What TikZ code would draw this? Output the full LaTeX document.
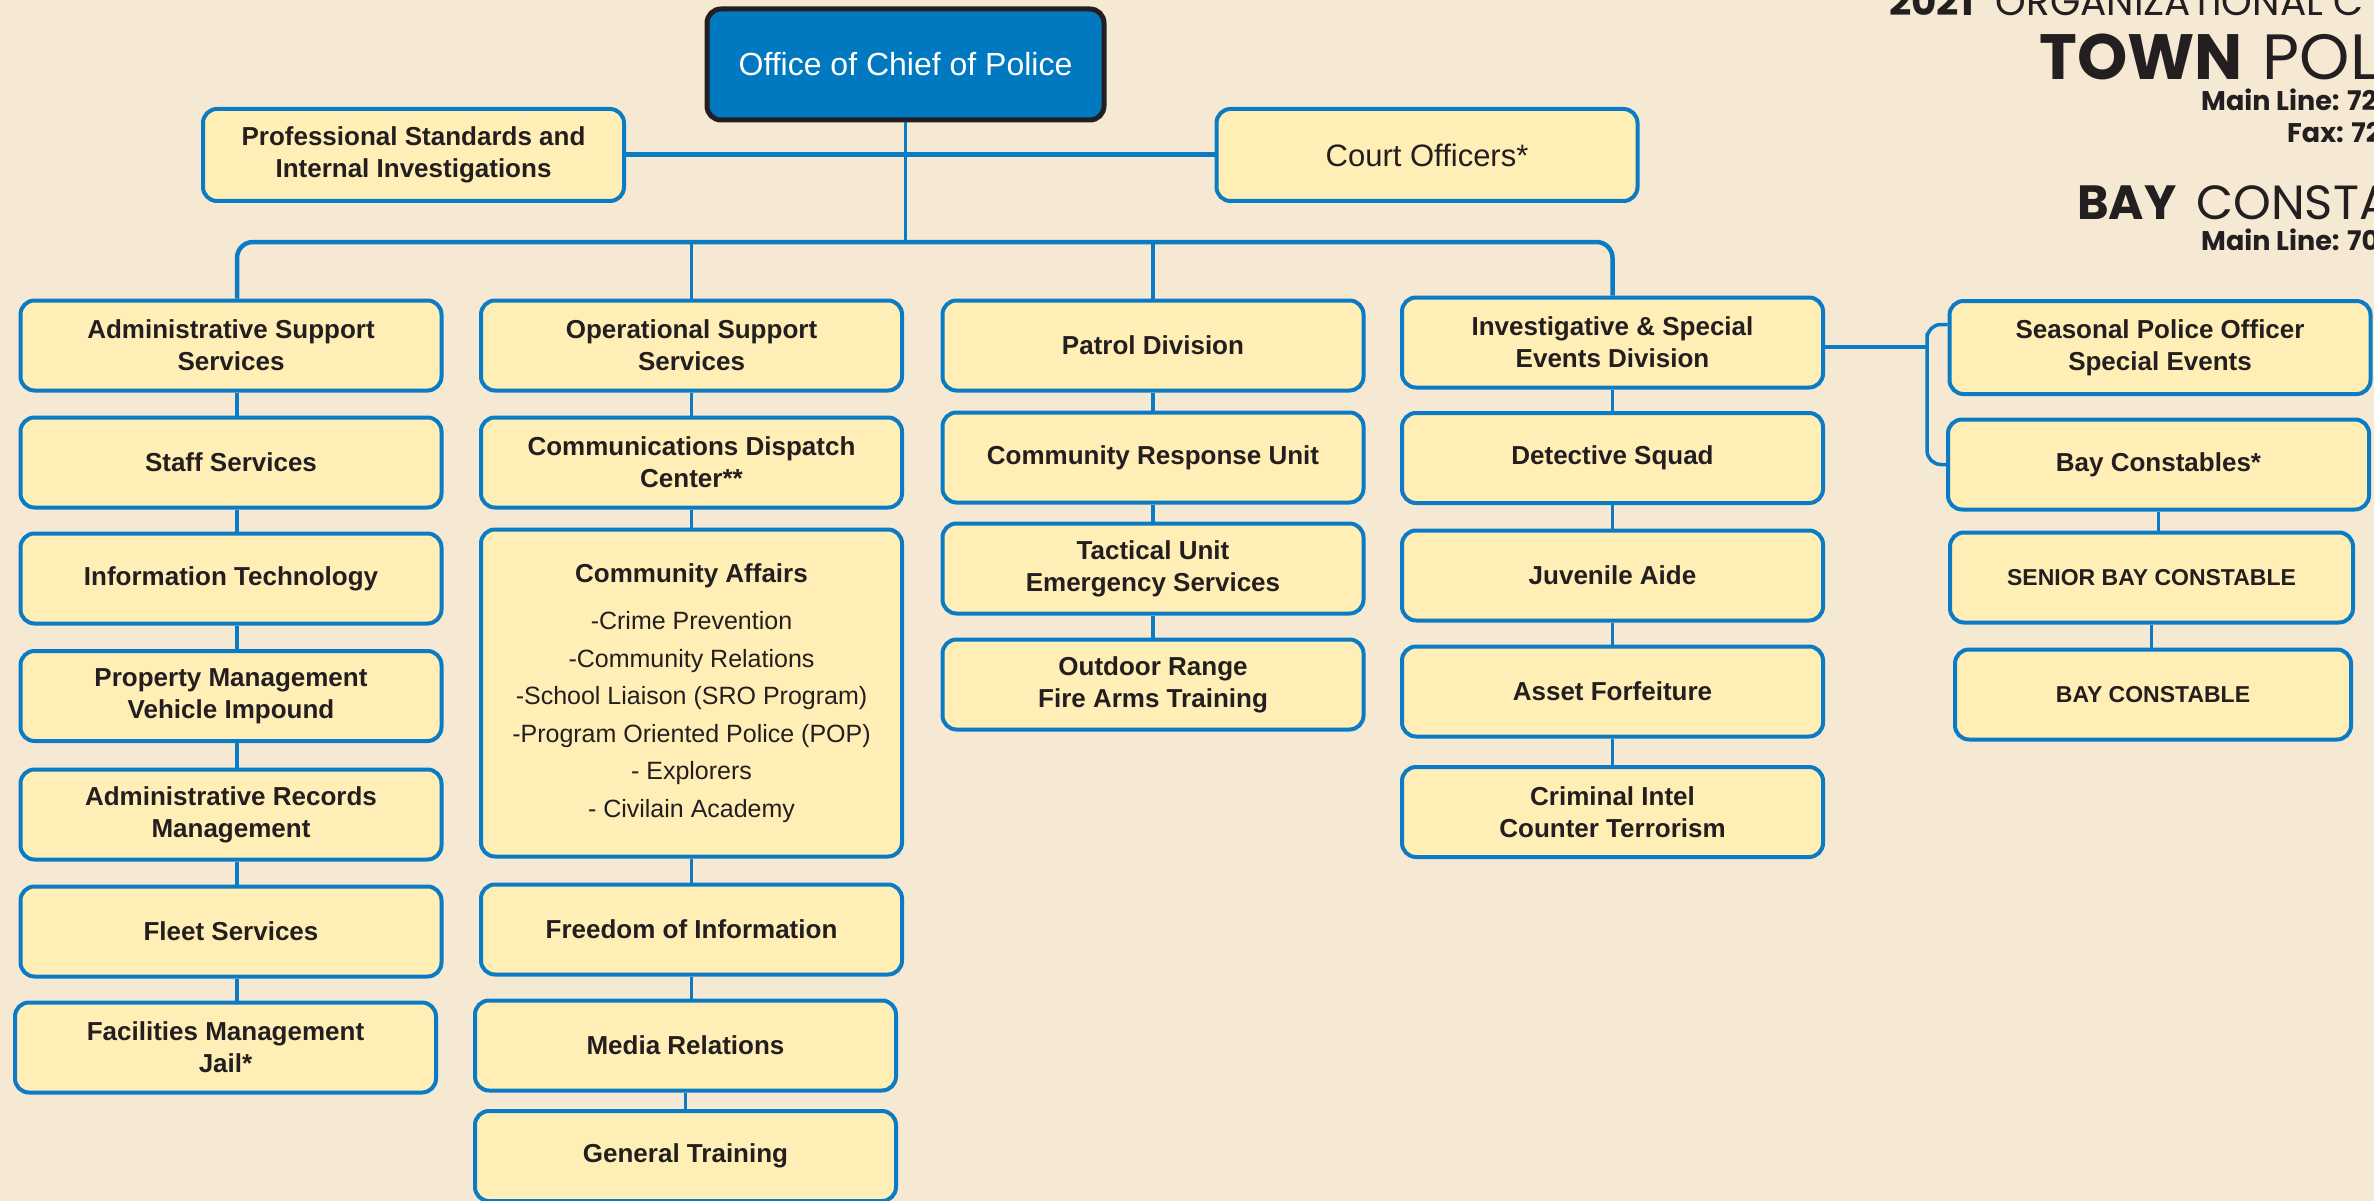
\documentclass[tikz,border=0pt]{standalone}
\usepackage{fontspec}
\setmainfont{Liberation Sans}
\newfontfamily\titlefont{Poppins}
\usepackage{tikz}
\usetikzlibrary{positioning,calc}

\definecolor{bgcream}{HTML}{F5E9D3}
\definecolor{boxfill}{HTML}{FFEEB5}
\definecolor{lineblue}{HTML}{0A7BC4}
\definecolor{chiefblue}{HTML}{0079C1}
\definecolor{ink}{HTML}{231F20}

\newcommand{\listfont}{\fontsize{25}{37.5}\selectfont\mdseries}

\tikzset{
  deptbox/.style={draw=lineblue, line width=4pt, fill=boxfill, rounded corners=14pt,
    minimum width=421pt, minimum height=90pt, inner sep=0pt, align=center,
    text=ink, font=\fontsize{26}{32}\selectfont\bfseries},
  chiefbox/.style={deptbox, draw=ink, line width=5pt, fill=chiefblue, text=white,
    minimum width=397pt, minimum height=111pt, font=\fontsize{32}{38}\selectfont},
  link/.style={draw=lineblue, line width=3.5pt},
  heading/.style={anchor=base west, inner sep=0pt, text=ink},
}

\begin{document}
\begin{tikzpicture}[x=1pt,y=-1pt]
    % Background and page size
    \fill[bgcream] (0,0) rectangle (2374,1201);
    \useasboundingbox (0,0) rectangle (2374,1201);
    \clip (0,0) rectangle (2374,1201);

    % Title block
    \node[heading, font=\titlefont\fontsize{39}{44}\selectfont] (year) at (1889,16) {\bfseries 2021\hspace{22pt}\mdseries ORGANIZATIONAL C};
    \node[heading, font=\titlefont\fontsize{64}{70}\selectfont] (town) at (2039,80) {\bfseries TOWN\hspace{20pt}\mdseries POL};
    \node[heading, font=\titlefont\fontsize{27}{32}\selectfont\bfseries] (mainA) at (2201,111) {Main Line: 72};
    \node[heading, font=\titlefont\fontsize{27}{32}\selectfont\bfseries] (fax) at (2287,143) {Fax: 72};
    \node[heading, font=\titlefont\fontsize{48}{54}\selectfont] (bay) at (2077,219) {\bfseries BAY\hspace{20pt}\mdseries CONSTA};
    \node[heading, font=\titlefont\fontsize{27}{32}\selectfont\bfseries] (mainB) at (2201,250) {Main Line: 70};

    % Top level
    \node[chiefbox] (chief) at (905.5,64.5) {Office of Chief of Police};
    \node[deptbox, minimum height=92pt] (prof) at (413.5,155) {Professional Standards and\\Internal Investigations};
    \node[deptbox, minimum height=92pt, font=\fontsize{31}{36}\selectfont] (court) at (1427,155) {Court Officers*};

    % Administrative column
    \node[deptbox] (adm) at (231,345.5) {Administrative Support\\Services};
    \node[deptbox] (staff) at (231,462.5) {Staff Services};
    \node[deptbox] (it) at (231,578.5) {Information Technology};
    \node[deptbox] (prop) at (231,696) {Property Management\\Vehicle Impound};
    \node[deptbox] (rec) at (231,814.5) {Administrative Records\\Management};
    \node[deptbox] (fleet) at (231,931.5) {Fleet Services};
    \node[deptbox] (fac) at (225.5,1047.5) {Facilities Management\\Jail*};

    % Operational column
    \node[deptbox] (ops) at (691.5,345.5) {Operational Support\\Services};
    \node[deptbox] (comm) at (691.5,462.5) {Communications Dispatch\\Center**};
    \node[deptbox, minimum height=327pt, font=\listfont] (affairs) at (691.5,693) {{\bfseries\fontsize{26}{37.5}\selectfont Community Affairs}\\[10pt]
        -Crime Prevention\\-Community Relations\\-School Liaison (SRO Program)\\-Program Oriented Police (POP)\\- Explorers\\- Civilain Academy};
    \node[deptbox] (foi) at (691.5,929.5) {Freedom of Information};
    \node[deptbox] (media) at (685.5,1045.5) {Media Relations};
    \node[deptbox] (train) at (685.5,1156) {General Training};

    % Patrol column
    \node[deptbox] (patrol) at (1153,345.5) {Patrol Division};
    \node[deptbox] (cru) at (1153,457.5) {Community Response Unit};
    \node[deptbox] (tac) at (1153,568.5) {Tactical Unit\\Emergency Services};
    \node[deptbox] (range) at (1153,684.5) {Outdoor Range\\Fire Arms Training};

    % Investigative column
    \node[deptbox] (inv) at (1612.5,342.5) {Investigative \& Special\\Events Division};
    \node[deptbox] (det) at (1612.5,458) {Detective Squad};
    \node[deptbox] (juv) at (1612.5,575.5) {Juvenile Aide};
    \node[deptbox] (asset) at (1612.5,691.5) {Asset Forfeiture};
    \node[deptbox] (intel) at (1612.5,812) {Criminal Intel\\Counter Terrorism};

    % Seasonal and bay constables
    \node[deptbox, minimum height=93pt] (seasonal) at (2160,347.5) {Seasonal Police Officer\\Special Events};
    \node[deptbox] (baycon) at (2158.5,464.5) {Bay Constables*};
    \node[deptbox, minimum width=403pt, font=\fontsize{23}{28}\selectfont\bfseries] (senior) at (2151.5,577.5) {SENIOR BAY CONSTABLE};
    \node[deptbox, minimum width=396pt, font=\fontsize{23}{28}\selectfont\bfseries] (constable) at (2153,694.5) {BAY CONSTABLE};

    % Connectors from the chief
    \coordinate (bus) at (905.5,242);
    \coordinate (spine) at (237,0);
    \draw[link, line width=5pt] (prof.east) -- (court.west);
    \draw[link] (chief.south) -- (bus);
    \draw[link, line width=4.5pt, rounded corners=16pt] (adm.north -| spine) |- (bus) -| (inv.north);
    \draw[link] (ops.north) -- (ops.north |- bus);
    \draw[link] (patrol.north) -- (patrol.north |- bus);

    % Bracket to seasonal and bay constables
    \coordinate (fork) at (1927,347);
    \draw[link, line width=4.5pt] (inv.east |- fork) -- (fork);
    \draw[link, rounded corners=14pt] ([yshift=23pt]seasonal.west) -| (fork) |- (baycon.west);

    % Column connectors
    \foreach \a/\b in {adm/staff, staff/it, it/prop, prop/rec, rec/fleet, fleet/fac}
        \draw[link] (\a.south -| spine) -- (\b.north -| spine);
    \foreach \a/\b in {ops/comm, comm/affairs, affairs/foi, foi/media, media/train,
        patrol/cru, cru/tac, tac/range,
        inv/det, det/juv, juv/asset, asset/intel,
        baycon/senior, senior/constable}
        \draw[link] (\a.south) -- (\a.south |- \b.north);
\end{tikzpicture}
\end{document}
